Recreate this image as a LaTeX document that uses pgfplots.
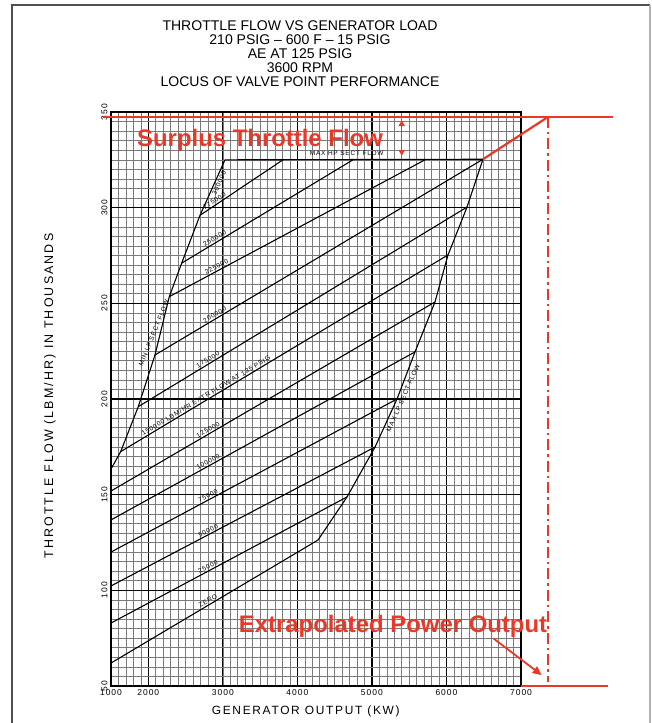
\documentclass[border=0pt]{standalone}
\usepackage{fontspec}
\setmainfont{Liberation Sans}
\newfontfamily\cad[LetterSpace=12]{Liberation Sans}
\newfontfamily\cadwide[LetterSpace=17]{Liberation Sans}
\newfontfamily\cadx[LetterSpace=14]{Liberation Sans}
\usepackage{pgfplots}
\pgfplotsset{compat=1.18}
\usetikzlibrary{arrows.meta}
\definecolor{annot}{RGB}{234,56,40}
\definecolor{framegray}{RGB}{80,80,80}

\begin{document}
\begin{tikzpicture}
\useasboundingbox (0bp,0bp) rectangle (652bp,723bp);
% sheet frame
\draw[framegray, line width=2bp] (12bp,-5bp) -- (12bp,718bp) -- (650bp,718bp);
\draw[black!30, line width=1.5bp] (650bp,718bp) -- (650bp,-5bp);

\node[align=center, font=\fontsize{14.1}{14}\selectfont] at (300bp,669bp)
  {THROTTLE FLOW VS GENERATOR LOAD\\
   210 PSIG -- 600 F -- 15 PSIG\\
   AE AT 125 PSIG\\
   3600 RPM\\
   LOCUS OF VALVE POINT PERFORMANCE};

\begin{axis}[
  at={(111bp,37bp)}, anchor=south west,
  scale only axis, width=410bp, height=574bp,
  xmin=1500, xmax=7000, ymin=50, ymax=350,
  xtick={1500,2000,3000,4000,5000,6000,7000},
  xticklabels={1000,2000,3000,4000,5000,6000,7000},
  ytick={50,100,150,200,250,300,350},
  yticklabels={50,100,150,200,250,300,350},
  minor xtick={1600,1700,...,6900},
  minor ytick={55,60,...,345},
  grid=both,
  major grid style={black, line width=1.3bp},
  minor grid style={black!52, line width=0.55bp},
  major tick length=0pt, minor tick length=0pt,
  axis line style={black, line width=1.5bp},
  tick label style={font=\cad\fontsize{8.5}{9}\selectfont},
  yticklabel style={rotate=90, anchor=south},
  xlabel={GENERATOR OUTPUT (KW)},
  ylabel={THROTTLE FLOW (LBM/HR) IN THOUSANDS},
  xlabel style={at={(axis description cs:0.475,-0.045)}, anchor=center,
    font=\cadx\fontsize{12}{12}\selectfont},
  ylabel style={at={(axis description cs:-0.149,0.505)}, anchor=center,
    font=\cadwide\fontsize{12.5}{12.5}\selectfont},
  clip=false,
]

% extraction flow lines, each labelled with its extraction flow
\begin{scope}[every node/.style={font=\cad\fontsize{6.5}{6.5}\selectfont, inner sep=1.2bp, sloped, above}]
\addplot[black, line width=1.1bp] coordinates {(1500,62.0) (4277,126.3)} node[pos=0.478] {ZERO};
\addplot[black, line width=1.1bp] coordinates {(1500,82.9) (4666,148.8)} node[pos=0.419] {25000};
\addplot[black, line width=1.1bp] coordinates {(1500,102.3) (5042,174.9)} node[pos=0.375] {50000};
\addplot[black, line width=1.1bp] coordinates {(1500,120.0) (5337,200.0)} node[pos=0.346] {75000};
\addplot[black, line width=1.1bp] coordinates {(1500,136.8) (5578,224.6)} node[pos=0.326] {100000};
\addplot[black, line width=1.1bp] coordinates {(1500,151.9) (5846,250.7)} node[pos=0.306] {125000};
\addplot[black, line width=1.1bp] coordinates {(1630,172.5) (6021,275.3)} node[pos=0.267] {150000 LBM/HR EXTR FLOW AT 125 PSIG};
\addplot[black, line width=1.1bp] coordinates {(1866,196.0) (6276,300.3)} node[pos=0.218] {175000};
\addplot[black, line width=1.1bp] coordinates {(2090,223.0) (6490,325.3)} node[pos=0.188] {200000};
\addplot[black, line width=1.1bp] coordinates {(2282,253.5) (5712,325.0)} node[pos=0.192] {225000};
\addplot[black, line width=1.1bp] coordinates {(2448,271.0) (4746,325.0)} node[pos=0.205] {250000};
\addplot[black, line width=1.1bp] coordinates {(2694,296.0) (3807,325.0)} node[pos=0.201] {275000};
\addplot[black, line width=1.1bp] coordinates {(2694,296.0) (3029,325.0)} node[pos=0.62, below] {300000};
\end{scope}

% boundaries
\addplot[black, line width=1.1bp] coordinates {
  (1500,163.4) (1630,172.5) (1866,196.0) (2090,223.0) (2282,253.5)
  (2448,271.0) (2694,296.0)};
\addplot[black, line width=1.1bp] coordinates {(3029,325.0) (6490,325.3)};
\addplot[black, line width=1.1bp] coordinates {
  (4277,126.3) (4666,148.8) (5042,174.9) (5337,200.0) (5578,224.6)
  (5846,250.7) (6021,275.3) (6276,300.3) (6490,325.3)};

\begin{scope}[every node/.style={font=\cad\fontsize{6.5}{6.5}\selectfont, inner sep=0pt}]
\node at (axis cs:4662,328.6) {MAX HP SECT FLOW};
\node[rotate=68] at (axis cs:2075,234.5) {MIN LP SECT FLOW};
\node[rotate=66] at (axis cs:5420,200.5) {MAX LP SECT FLOW};
\end{scope}

% red annotations
\draw[annot, line width=2.2bp] (axis cs:1393,347.4) -- (axis cs:8234,347.4);
\draw[annot, line width=2.2bp] (axis cs:6490,325.3) -- (axis cs:7362,347.4);
\draw[annot, line width=2.2bp, dash pattern=on 11bp off 4bp on 2.5bp off 4bp]
  (axis cs:7362,347.4) -- (axis cs:7362,52);
\draw[annot, line width=2.2bp] (axis cs:7000,50) -- (axis cs:8167,50);
\draw[annot, line width=1.8bp, -{Triangle[length=9bp,width=8bp]}]
  (axis cs:6629,74.9) -- (axis cs:7278,55.7);
\draw[annot, line width=1.5bp, {Triangle[length=6bp,width=6bp]}-{Triangle[length=6bp,width=6bp]}]
  (axis cs:5400,345.8) -- (axis cs:5400,327);
\node[annot, font=\bfseries\fontsize{24}{24}\selectfont, anchor=base, inner sep=0pt]
  at (axis cs:3499,332.2) {Surplus Throttle Flow};
\node[annot, font=\bfseries\fontsize{24}{24}\selectfont, anchor=base, inner sep=0pt]
  at (axis cs:5283,78.2) {Extrapolated Power Output};
\end{axis}
\end{tikzpicture}
\end{document}
